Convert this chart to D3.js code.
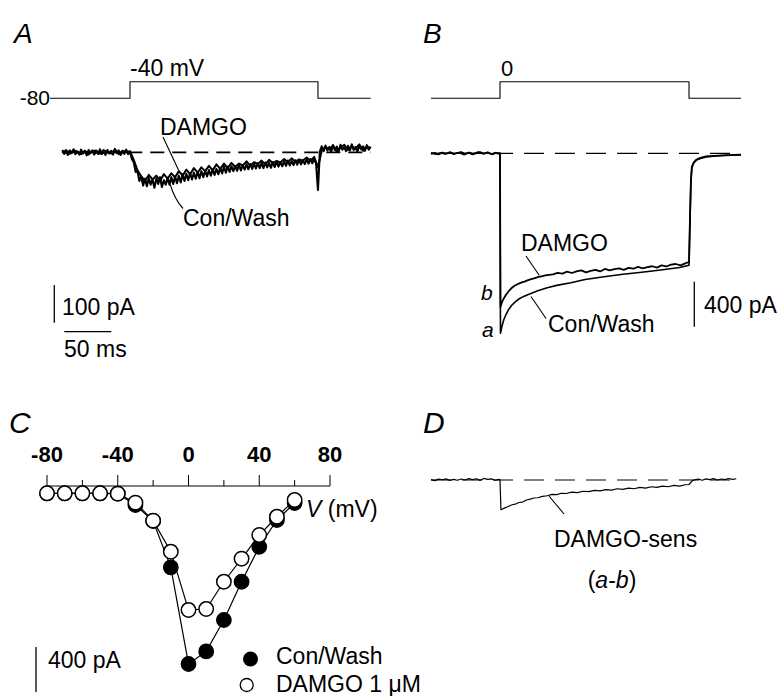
<!DOCTYPE html>
<html><head><meta charset="utf-8">
<script src="https://cdn.jsdelivr.net/npm/d3@7"></script>
<style>
body{margin:0;background:#fff}
svg{display:block}
text{font-family:"Liberation Sans",Arial,Helvetica,sans-serif;fill:#000}
</style>
</head><body>
<svg id="fig" width="782" height="696"></svg>
<script>
// ---------- Panel A: step to -40 mV ----------
const aStepTime = [-85, 0, 0, 200, 200, 256];
const aStepMv   = [-80, -80, -40, -40, -80, -80];
const aConTime = [-72,-70,-68,-66,-64,-62,-60,-58,-56,-54,-52,-50,-48,-46,-44,-42,-40,-38,-36,-34,-32,-30,-28,-26,-24,-22,-20,-18,-16,-14,-12,-10,-8,-6,-4,-2,
  0,2,4,6,8,10,12,14,
  16,18,20,22,24,26,28,30,32,34,36,38,40,
  42,44,46,48,50,52,54,56,58,60,
  62,64,66,68,70,72,74,76,78,80,82,84,86,88,90,92,94,96,98,100,
  102,104,106,108,110,112,114,116,118,120,122,124,126,128,130,132,134,136,138,140,
  142,144,146,148,150,152,154,156,158,160,162,164,166,168,170,172,174,176,178,180,182,184,186,188,190,192,194,196,
  198,200,202,204,206,208,210,212,214,216,218,220,222,224,226,228,230,232,234,236,238,240,242,244,246,248,250,252,254,256];
const aConWash = [6,-4,3,-7,5,-2,8,-5,2,-6,7,-3,4,-8,6,-1,5,-6,3,-4,8,-5,1,-7,6,-3,4,-6,9,-2,5,-7,3,-4,7,-5,
  2,-18,-26,-52,-50,-76,-64,-88,
  -70,-90,-68,-86,-72,-94,-70,-84,-66,-92,-74,-86,-68,
  -86,-66,-84,-64,-82,-62,-80,-58,-76,-57,
  -74,-55,-72,-54,-70,-52,-69,-50,-66,-49,-64,-47,-62,-46,-60,-44,-58,-42,-56,-38,
  -54,-38,-52,-37,-50,-36,-49,-33,-48,-34,-46,-32,-45,-31,-44,-30,-43,-29,-42,-28,
  -42,-27,-40,-28,-41,-26,-39,-25,-38,-26,-37,-24,-36,-22,-35,-23,-34,-21,-33,-20,-32,-21,-31,-19,-30,-18,-29,-17,
  -30,-100,2,16,3,18,5,14,1,19,6,15,2,20,7,13,3,17,5,21,6,14,2,18,8,16,4,19,7,15];
const aDamgoTime = [-72,-68,-64,-60,-56,-52,-48,-44,-40,-36,-32,-28,-24,-20,-16,-12,-8,-4,
  0,4,8,12,16,20,24,28,32,36,40,44,48,52,56,60,64,68,72,76,80,84,88,92,96,100,
  104,108,112,116,120,124,128,132,136,140,144,148,152,156,160,164,168,172,176,180,184,188,192,196,
  200,204,208,212,216,220,224,228,232,236,240,244,248,252,256];
const aDamgo = [-2,6,-4,5,2,-5,4,-6,3,5,-4,6,0,-3,7,-5,4,0,
  3,-20,-48,-64,-76,-60,-72,-62,-76,-58,-70,-56,-66,-50,-62,-46,-58,-42,-54,-40,-50,-36,-48,-32,-44,-30,
  -42,-28,-39,-30,-35,-24,-36,-26,-31,-22,-32,-20,-29,-23,-27,-18,-26,-16,-25,-19,-22,-14,-23,-12,
  -40,4,14,8,18,2,12,20,6,16,10,21,4,15,11];

// ---------- Panel B: step to 0 mV ----------
const bStepTime = [-73, 0, 0, 200, 200, 255];
const bStepMv   = [-80, -80, 0, 0, -80, -80];
const bConTime = [-73,-68,-63,-58,-53,-48,-43,-38,-33,-28,-23,-18,-13,-8,-4,
  0,0.5,2,4,6,9,12,15,20,25,30,
  40,50,60,75,90,110,130,150,170,190,200,
  201,202,203,205,208,212,218,226,236,246,255];
const bConWash = [5,-8,3,-6,10,-2,4,-12,6,-5,12,-3,6,-10,4,
  0,-1600,-1540,-1480,-1440,-1390,-1355,-1330,-1295,-1272,-1255,
  -1222,-1195,-1174,-1150,-1122,-1098,-1075,-1058,-1038,-1015,-995,
  -620,-260,-130,-85,-60,-46,-32,-26,-20,-18,-14];
const bDamgoTime = [-73,-69,-65,-61,-57,-53,-49,-45,-41,-37,-33,-29,-25,-21,-17,-13,-9,-5,-2,0,
  0.5,2,4,6,9,12,15,
  20,23,26,29,33,36,40,44,48,52,56,
  61,66,71,76,81,86,91,96,101,106,111,116,121,126,131,136,141,146,151,156,161,166,171,176,181,186,191,196,
  200,201,202,203,205,208,212,218,226,236,246,255];
const bDamgo = [-6,4,-10,7,-2,9,-8,3,11,-5,6,-9,2,10,-4,8,-7,5,-3,0,
  -1365,-1325,-1290,-1262,-1228,-1200,-1180,
  -1158,-1148,-1141,-1130,-1119,-1112,-1100,-1093,-1086,-1080,-1076,
  -1062,-1070,-1052,-1064,-1049,-1041,-1058,-1046,-1036,-1050,-1028,-1040,-1030,-1022,-1036,-1018,-1026,-1010,-1022,-1012,-1004,-1016,-996,-1006,-990,-984,-996,-978,
  -966,-580,-240,-120,-80,-55,-40,-28,-22,-18,-14,-12];

// ---------- Panel C: I-V relation ----------
const cVoltage = [-80,-70,-60,-50,-40,-30,-20,-10,0,10,20,30,40,50,60];
const cConWash = [-65,-65,-65,-65,-68,-169,-311,-723,-1582,-1470,-1191,-851,-540,-302,-151];
const cDamgo   = [-65,-65,-65,-65,-68,-148,-308,-584,-1102,-1093,-851,-646,-436,-273,-124];
const cMajorTicks = [-80,-40,0,40,80];
const cMinorTicks = [-60,-20,20,60];

// ---------- Panel D: DAMGO-sensitive current (a-b) ----------
const dTime = [-73,-69,-65,-61,-57,-53,-49,-45,-41,-37,-33,-29,-25,-21,-17,-13,-9,-5,-1,0,1,
  4,8,12,16,20,24,28,32,36,40,45,50,55,60,65,70,
  76,82,88,94,100,106,112,118,124,130,136,142,148,154,160,166,172,178,184,190,196,
  200,203,206,210,214,218,222,226,230,234,238,242,246,250];
const dSens = [4,-6,8,2,10,-4,6,-2,9,0,12,3,11,-3,14,5,10,-2,6,0,-265,
  -252,-238,-222,-215,-200,-196,-178,-170,-160,-158,-146,-140,-128,-130,-118,-120,
  -108,-112,-100,-104,-92,-96,-86,-90,-78,-83,-72,-78,-66,-72,-60,-66,-54,-60,-48,-54,-42,
  -40,-10,2,8,-2,10,4,12,0,9,3,13,5,11];

const svg = d3.select("#fig");
const FS = 23;

function label(x, y, s, o = {}) {
  const t = svg.append("text").attr("x", x).attr("y", y)
    .attr("font-size", o.size || FS)
    .attr("text-anchor", o.anchor || "start");
  if (o.italic) t.attr("font-style", "italic");
  if (o.bold) t.attr("font-weight", "bold");
  t.text(s);
  return t;
}
function seg(x1, y1, x2, y2, w = 1.1) {
  svg.append("line").attr("x1", x1).attr("y1", y1).attr("x2", x2).attr("y2", y2)
    .attr("stroke", "#000").attr("stroke-width", w);
}
function trace(xs, ys, xScale, yScale, w) {
  const pts = xs.map((t, i) => [xScale(t), yScale(ys[i])]);
  svg.append("path").attr("d", d3.line()(pts))
    .attr("fill", "none").attr("stroke", "#000").attr("stroke-width", w)
    .attr("stroke-linejoin", "round");
}

// ===== Panel A =====
const xA = d3.scaleLinear().domain([-72, 256]).range([62.3, 370.6]);
const yA = d3.scaleLinear().domain([0, -100]).range([152.3, 190]);
const vA = d3.scaleLinear().domain([-80, -40]).range([98.3, 81.7]);
trace(aStepTime, aStepMv, xA, vA, 1.1);
svg.append("line").attr("x1", xA(-72)).attr("x2", xA(256)).attr("y1", yA(0)).attr("y2", yA(0))
  .attr("stroke", "#000").attr("stroke-width", 1.8).attr("stroke-dasharray", "14,8");
trace(aDamgoTime, aDamgo, xA, yA, 2.0);
trace(aConTime, aConWash, xA, yA, 2.1);
label(14, 43, "A", {size: 28, italic: true});
label(50, 105, "-80", {size: 21, anchor: "end"});
label(130, 76, "-40 mV", {size: 23});
label(160, 135, "DAMGO");
seg(163, 137, 178.5, 170);
svg.append("path").attr("d", "M170,184 Q175,200 183,208.5").attr("fill", "none").attr("stroke", "#000").attr("stroke-width", 1.1);
label(183, 226, "Con/Wash");
// scale bars
seg(54.3, 285, 54.3, 285 + (yA(-100) - yA(0)), 1.3);
label(62, 315, "100 pA");
seg(64.3, 331.7, 64.3 + (xA(50) - xA(0)), 331.7, 1.3);
label(64, 357, "50 ms");

// ===== Panel B =====
const xB = d3.scaleLinear().domain([-73, 255]).range([431, 741]);
const yB = d3.scaleLinear().domain([0, -400]).range([153.3, 198.3]);
const vB = d3.scaleLinear().domain([-80, 0]).range([98.3, 81.7]);
trace(bStepTime, bStepMv, xB, vB, 1.1);
svg.append("line").attr("x1", xB(-73)).attr("x2", xB(255)).attr("y1", yB(0)).attr("y2", yB(0))
  .attr("stroke", "#000").attr("stroke-width", 1.2).attr("stroke-dasharray", "20,11");
trace(bConTime, bConWash, xB, yB, 1.6);
trace(bDamgoTime, bDamgo, xB, yB, 1.8);
label(423, 43, "B", {size: 28, italic: true});
label(501, 76, "0", {size: 22});
label(521, 251, "DAMGO");
seg(526, 256, 539.3, 275.5);
seg(531, 296.5, 546, 318.5);
label(548, 332, "Con/Wash");
label(481, 300, "b", {size: 21, italic: true});
label(482, 337, "a", {size: 21, italic: true});
seg(694.3, 281.7, 694.3, 281.7 + (yB(-400) - yB(0)), 1.3);
label(704, 313, "400 pA");

// ===== Panel C =====
const xC = d3.scaleLinear().domain([-80, 80]).range([47, 330]);
const yC = d3.scaleLinear().domain([0, -400]).range([486, 531]);
seg(xC(-80), yC(0), xC(80), yC(0), 1.2);
cMajorTicks.forEach(v => {
  seg(xC(v), yC(0), xC(v), yC(0) - 11, 1);
  label(xC(v), 462, v, {size: 22, bold: true, anchor: "middle"});
});
cMinorTicks.forEach(v => seg(xC(v), yC(0), xC(v), yC(0) - 6, 1));
const lineC = d3.line().x((d, i) => xC(cVoltage[i])).y(d => yC(d));
svg.append("path").attr("d", lineC(cConWash)).attr("fill", "none").attr("stroke", "#000").attr("stroke-width", 1.2);
svg.selectAll("circle.cw").data(cConWash).enter().append("circle")
  .attr("cx", (d, i) => xC(cVoltage[i])).attr("cy", d => yC(d)).attr("r", 7.2)
  .attr("fill", "#000").attr("stroke", "#000").attr("stroke-width", 1.4);
svg.append("path").attr("d", lineC(cDamgo)).attr("fill", "none").attr("stroke", "#000").attr("stroke-width", 1.2);
svg.selectAll("circle.dm").data(cDamgo).enter().append("circle")
  .attr("cx", (d, i) => xC(cVoltage[i])).attr("cy", d => yC(d)).attr("r", 7.2)
  .attr("fill", "#fff").attr("stroke", "#000").attr("stroke-width", 1.5);
label(9, 433, "C", {size: 30, italic: true});
const vl = label(306, 517, "", {});
vl.append("tspan").attr("font-style", "italic").text("V");
vl.append("tspan").text(" (mV)");
seg(36, 647, 36, 647 + (yC(-400) - yC(0)), 1.3);
label(48, 668, "400 pA");
svg.append("circle").attr("cx", 250.5).attr("cy", 659).attr("r", 7.5).attr("fill", "#000");
label(276, 664, "Con/Wash");
svg.append("circle").attr("cx", 246.7).attr("cy", 685).attr("r", 6.5).attr("fill", "#fff").attr("stroke", "#000").attr("stroke-width", 1.3);
label(276, 692, "DAMGO 1 μM");

// ===== Panel D =====
const xD = d3.scaleLinear().domain([-73, 255]).range([431, 741]);
const yD = d3.scaleLinear().domain([0, -400]).range([480, 525]);
svg.append("line").attr("x1", xD(-73)).attr("x2", xD(250)).attr("y1", yD(0)).attr("y2", yD(0))
  .attr("stroke", "#000").attr("stroke-width", 1.2).attr("stroke-dasharray", "20,11");
trace(dTime, dSens, xD, yD, 1.2);
label(423, 433, "D", {size: 30, italic: true});
seg(549, 496, 564, 514);
label(554, 547, "DAMGO-sens");
const ab = label(612, 588, "", {anchor: "middle"});
ab.append("tspan").text("(");
ab.append("tspan").attr("font-style", "italic").text("a");
ab.append("tspan").text("-");
ab.append("tspan").attr("font-style", "italic").text("b");
ab.append("tspan").text(")");
</script>
</body></html>
